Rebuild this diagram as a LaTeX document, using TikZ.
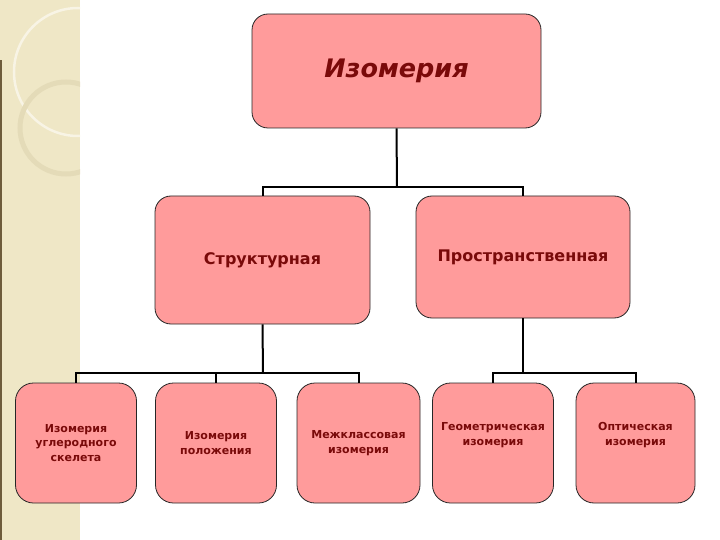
\documentclass[tikz,border=0pt]{standalone}
\usepackage{fontspec}
\setsansfont{DejaVu Sans}
\usetikzlibrary{positioning}

\definecolor{boxfill}{HTML}{FF9B9B}
\definecolor{boxtext}{HTML}{7A0A0A}
\definecolor{band}{HTML}{EFE7C6}
\definecolor{bandring}{HTML}{E4DBB8}
\definecolor{bandedge}{HTML}{6E5C3C}

\begin{document}
\begin{tikzpicture}[
  x=1pt, y=-1pt,
  font=\sffamily\bfseries,
  box/.style={draw=black!85, fill=boxfill, rounded corners=16pt, line width=0.8pt,
              align=center, text=boxtext, inner sep=2pt},
  head/.style={box, minimum width=289pt, minimum height=114pt, font=\sffamily\bfseries\itshape\fontsize{25.5}{30}\selectfont},
  kind/.style={box, minimum height=124pt, font=\sffamily\bfseries\fontsize{16}{19}\selectfont},
  leaf/.style={box, minimum width=121pt, minimum height=120pt, rounded corners=18pt,
               font=\sffamily\bfseries\fontsize{11}{14.5}\selectfont},
  upper/.style={label={[align=center, text=boxtext, font=\sffamily\bfseries\fontsize{11}{14.5}\selectfont, yshift=8pt]center:#1}},
  link/.style={draw=black, line width=2pt},
]
  \useasboundingbox (0,0) rectangle (720,540);

  % slide band on the left
  \fill[band] (0,0) rectangle (80,540);
  \begin{scope}
    \clip (0,0) rectangle (80,540);
    \draw[white!55!band, line width=2.5pt] (78,72) circle (64);
    \draw[bandring, line width=5pt] (66,128) circle (46);
  \end{scope}
  \fill[bandedge] (0,60) rectangle (2,540);

  % top
  \node[head] (izo) at (396.5,71) {Изомерия};

  % second row
  \node[kind, minimum width=215pt, minimum height=128pt] (struct) at (262.5,260) {Структурная};
  \node[kind, minimum width=214pt, minimum height=122pt] (prostr) at (523,257) {Пространственная};

  % bottom row
  \node[leaf] (skelet) at (76,443) {Изомерия\\углеродного\\скелета};
  \node[leaf] (polozh) at (216,443) {Изомерия\\положения};
  \node[leaf, minimum width=123pt] (mezhkl) at (358.5,443) {Межклассовая\\изомерия};
  \node[leaf, upper={Геометрическая\\изомерия}] (geom) at (493,443) {};
  \node[leaf, minimum width=119pt, upper={Оптическая\\изомерия}] (opt) at (635.5,443) {};

  % connectors
  \coordinate (top bus) at (397,187);
  \coordinate (left bus) at (263,373);
  \coordinate (right bus) at (523,373);

  \draw[link] (izo.south) -- (top bus);
  \draw[link] (struct.north) |- (top bus) -| (prostr.north);

  \draw[link] (struct.south) -- (left bus);
  \draw[link] (skelet.north) |- (left bus) -| (mezhkl.north);
  \draw[link] (polozh.north) -- (polozh.north |- left bus);

  \draw[link] (prostr.south) -- (right bus);
  \draw[link] (geom.north) |- (right bus) -| (opt.north);
\end{tikzpicture}
\end{document}
